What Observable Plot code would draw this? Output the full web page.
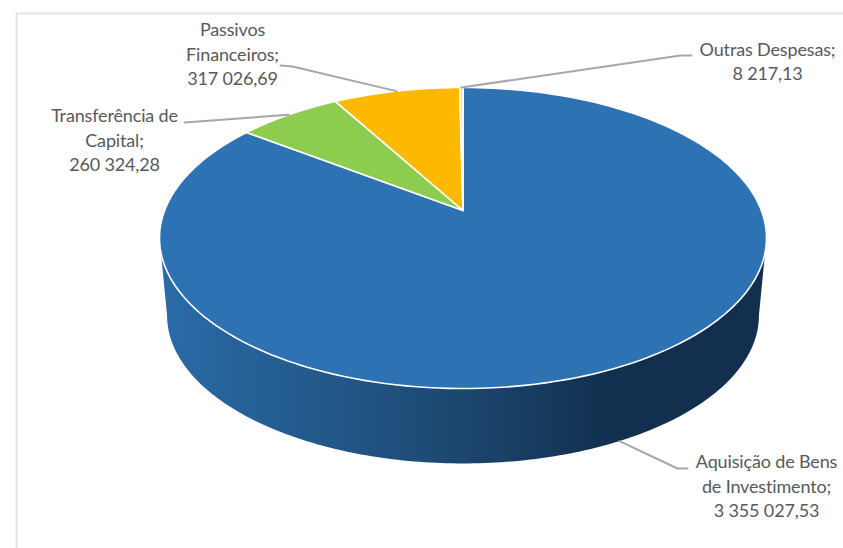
<!DOCTYPE html>
<html>
<head>
<meta charset="utf-8">
<script src="https://cdn.jsdelivr.net/npm/d3@7"></script>
<script src="https://cdn.jsdelivr.net/npm/@observablehq/plot@0.6"></script>
<style>
  html, body { margin: 0; padding: 0; background: #fff; }
  svg { display: block; }
</style>
</head>
<body>
<div id="chart"></div>
<script>
// Expense categories and amounts, in pie order (clockwise from twelve o'clock)
const categories = ["Aquisição de Bens\nde Investimento", "Transferência de\nCapital", "Passivos\nFinanceiros", "Outras Despesas"];
const amounts = [3355027.53, 260324.28, 317026.69, 8217.13];
const sliceColors = ["#2d72b2", "#8ccc4e", "#fdb900", "#f5dc8a"];

const W = 843, H = 548;

// Perspective disc: apex position, projection strength and extruded lower rim
const apex = [462.5, 210], k = -0.1827, radX = 298.4, radY = 145.5;
const ellipseMidY = 237.5, lowerMidY = 315, lowerScaleX = 0.975, lowerScaleY = 0.983;

const rad = (deg) => (deg * Math.PI) / 180;
function topPoint(deg, r = 1) {
  const u = r * Math.sin(rad(deg)), v = -r * Math.cos(rad(deg)), d = 1 + k * v;
  return [apex[0] + (radX * u) / d, apex[1] + (radY * v) / d];
}
function lowerPoint(deg) {
  const [x, y] = topPoint(deg);
  return [apex[0] + (x - apex[0]) * lowerScaleX, lowerMidY + (y - ellipseMidY) * lowerScaleY];
}
const arcDegrees = (a, b) => d3.range(0, 181).map((i) => a + ((b - a) * i) / 180);

// Slice angles accumulated from the amounts
const total = d3.sum(amounts);
let running = 0;
const slices = amounts.map((value, i) => {
  const start = (running / total) * 360;
  running += value;
  return { i, value, start, end: (running / total) * 360, mid: (start + (running / total) * 360) / 2 };
});

const slicePolys = slices.flatMap((s) =>
  [apex, ...arcDegrees(s.start, s.end).map((a) => topPoint(a)), apex].map(([x, y]) => ({ x, y, i: s.i }))
);

// Visible wall of the drum, between the two extreme points of the rim
const leftExtreme = 259.5, rightExtreme = 100.5;
const wall = [
  ...arcDegrees(rightExtreme, leftExtreme).map((a) => topPoint(a)),
  ...arcDegrees(leftExtreme, rightExtreme).map((a) => lowerPoint(a))
].map(([x, y]) => ({ x, y }));

// Leader lines run from the rim at each slice's mid-angle to an elbow near its label
const elbows = [
  [[677, 468], [687, 468]],
  [[184, 122]],
  [[292, 66], [280, 65]],
  [[680, 55], [691, 55]]
];
const leaders = slices.flatMap((s) => {
  const from = s.i === 0 ? lowerPoint(s.mid) : topPoint(s.mid);
  return [from, ...elbows[s.i]].map(([x, y]) => ({ x, y, i: s.i }));
});

// Labels in the "name; value" style with space-grouped thousands and a decimal comma
const fmt = d3.formatLocale({ decimal: ",", thousands: "\u00a0", grouping: [3] }).format(",.2f");
const labelAt = [[766, 484.5], [114, 138.5], [232, 52.5], [767, 59.5]];
const labels = slices.map((s) => ({
  x: labelAt[s.i][0],
  y: labelAt[s.i][1],
  text: `${categories[s.i]};\n${fmt(s.value)}`
}));

const wallGradient = () => {
  const ns = "http://www.w3.org/2000/svg";
  const defs = document.createElementNS(ns, "defs");
  const grad = document.createElementNS(ns, "linearGradient");
  grad.setAttribute("id", "wall-shade");
  grad.setAttribute("x1", "0"); grad.setAttribute("x2", "1");
  grad.setAttribute("y1", "0"); grad.setAttribute("y2", "0");
  [[0, "#2a6ba8"], [0.25, "#235a8c"], [0.5, "#1c466e"], [0.75, "#112f4e"], [1, "#122f4d"]].forEach(([o, c]) => {
    const stop = document.createElementNS(ns, "stop");
    stop.setAttribute("offset", o);
    stop.setAttribute("stop-color", c);
    grad.appendChild(stop);
  });
  defs.appendChild(grad);
  return defs;
};

const chart = Plot.plot({
  width: W,
  height: H,
  margin: 0,
  x: { domain: [0, W], range: [0, W], axis: null },
  y: { domain: [0, H], range: [0, H], axis: null },
  style: { background: "#fff", overflow: "hidden", letterSpacing: "-0.15px" },
  marks: [
    wallGradient,
    Plot.ruleY([13], { x1: 16, x2: W, stroke: "#e2e2e2", strokeWidth: 2 }),
    Plot.ruleX([16], { y1: 13, y2: H, stroke: "#e2e2e2", strokeWidth: 2 }),
    Plot.line(wall, { x: "x", y: "y", fill: "url(#wall-shade)", stroke: "none", curve: "linear" }),
    Plot.line(slicePolys, {
      x: "x", y: "y", z: "i",
      fill: (d) => sliceColors[d.i],
      stroke: "#fff", strokeWidth: 1.6, strokeLinejoin: "round", curve: "linear"
    }),
    Plot.line(leaders, { x: "x", y: "y", z: "i", stroke: "#a6a6a6", strokeWidth: 2, curve: "linear" }),
    Plot.text(labels, {
      x: "x", y: "y", text: "text",
      fontFamily: "Lato, 'Noto Sans', sans-serif",
      fontSize: 18, lineHeight: 1.36,
      fill: "#595959", textAnchor: "middle", lineAnchor: "middle"
    })
  ]
});
document.getElementById("chart").appendChild(chart);
</script>
</body>
</html>
